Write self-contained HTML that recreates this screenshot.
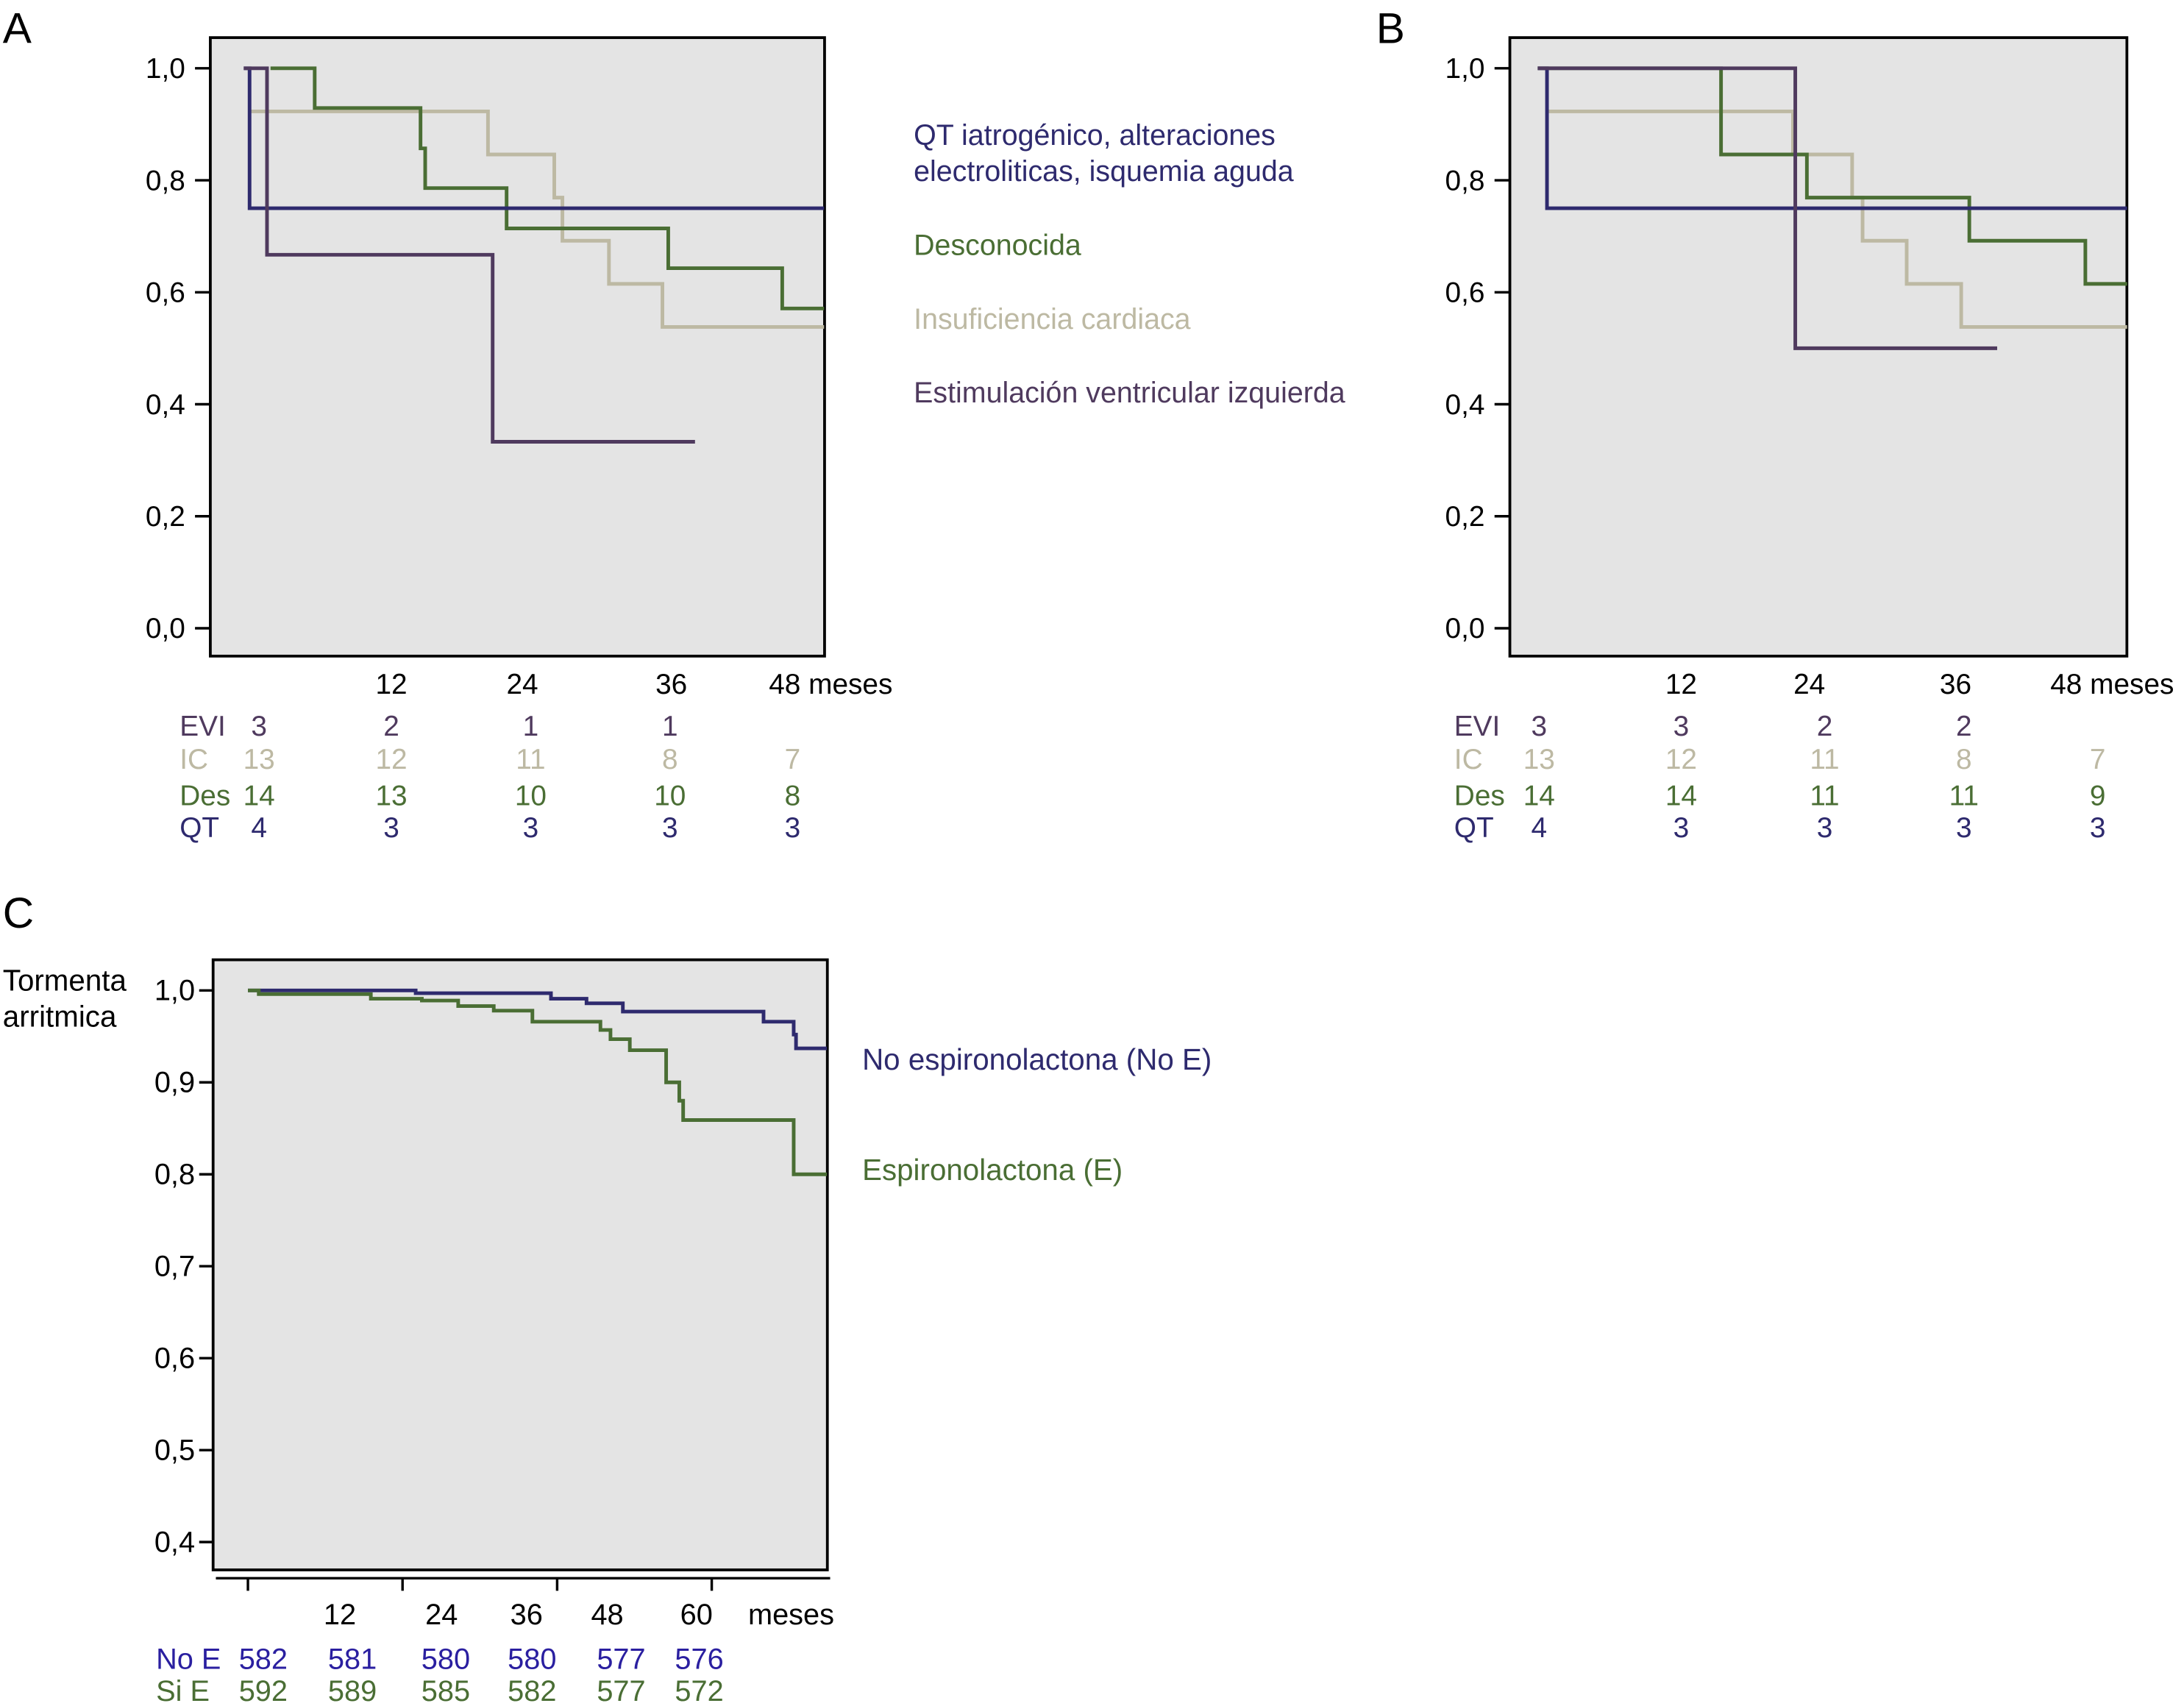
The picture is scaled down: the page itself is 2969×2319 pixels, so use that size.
<!DOCTYPE html>
<html><head><meta charset="utf-8"><style>
html,body{margin:0;padding:0;background:#fff;}
svg{display:block;}
text{font-family:"Liberation Sans",Arial,sans-serif;}
.n{font-family:"Liberation Sans Narrow","Liberation Sans",sans-serif;}
</style></head><body>
<svg id="fig" width="2969" height="2319" viewBox="0 0 1568 1224.7" xmlns="http://www.w3.org/2000/svg">
<rect width="1568" height="1225" fill="#fff"/>
<text x="2" y="31" font-size="31">A</text>
<text x="988" y="31" font-size="31">B</text>
<text x="2" y="666" font-size="31">C</text>
<rect x="151" y="27" width="441" height="444" fill="#e4e4e4" stroke="#000" stroke-width="2"/>
<rect x="1084" y="27" width="443" height="444" fill="#e4e4e4" stroke="#000" stroke-width="2"/>
<rect x="153" y="689" width="441" height="438" fill="#e4e4e4" stroke="#000" stroke-width="2"/>
<g id="layer"></g>
<g font-size="20.8">
<text x="656" y="104" fill="#2e2a6e">QT iatrogénico, alteraciones</text>
<text x="656" y="130" fill="#2e2a6e">electroliticas, isquemia aguda</text>
<text x="656" y="183" fill="#4a6e34">Desconocida</text>
<text x="656" y="236" fill="#bdb9a3">Insuficiencia cardiaca</text>
<text x="656" y="289" fill="#4f3a5e">Estimulación ventricular izquierda</text>
</g>
<g font-size="21.3" class="n">
<text x="2" y="711">Tormenta</text>
<text x="2" y="737">arritmica</text>
<text x="619" y="768" fill="#2e2a6e">No espironolactona (No E)</text>
<text x="619" y="847" fill="#4a6e34">Espironolactona (E)</text>
</g>
</svg>
<script>
// Panel A data
const aQtT=[0,0.5,49.9], aQtV=[1,0.75];
const aEviT=[0,2,21.4,38.8], aEviV=[1,0.667,0.333];
const aIcT=[0.5,21,26.7,27.4,31.4,36,49.9], aIcV=[0.923,0.846,0.769,0.692,0.615,0.538];
const aDesT=[2.3,6.1,15.2,15.6,22.6,36.5,46.3,49.9], aDesV=[1,0.929,0.857,0.786,0.714,0.643,0.571];
// Panel B data
const bQtT=[0,0.8,50.8], bQtV=[1,0.75];
const bEviT=[0,22.2,39.6], bEviV=[1,0.5];
const bIcT=[0.8,22,27.1,28,31.8,36.5,50.8], bIcV=[0.923,0.846,0.769,0.692,0.615,0.538];
const bDesT=[0,15.8,23.2,37.2,47.2,50.8], bDesV=[1,0.846,0.769,0.692,0.615];
// Panel C data
const cNoT=[0,21.7,39.2,43.8,48.5,66.7,70.6,70.9,74.9], cNoV=[1,0.997,0.991,0.986,0.977,0.966,0.952,0.937];
const cSiT=[0,1.4,15.9,22.5,27.2,31.8,36.8,45.6,46.9,49.4,54.1,55.8,56.3,70.6,74.9], cSiV=[1,0.996,0.991,0.989,0.983,0.978,0.966,0.957,0.947,0.935,0.9,0.88,0.859,0.8];
// ticks & risk tables
const abYTicks=[0,0.2,0.4,0.6,0.8,1.0], abYLabels=["0,0","0,2","0,4","0,6","0,8","1,0"];
const cYTicks=[0.4,0.5,0.6,0.7,0.8,0.9,1.0], cYLabels=["0,4","0,5","0,6","0,7","0,8","0,9","1,0"];
const riskRowsAB=["EVI","IC","Des","QT"];
const aRisk=[["3","2","1","1",""],["13","12","11","8","7"],["14","13","10","10","8"],["4","3","3","3","3"]];
const bRisk=[["3","3","2","2",""],["13","12","11","8","7"],["14","14","11","11","9"],["4","3","3","3","3"]];
const cRiskRows=["No E","Si E"];
const cRisk=[["582","581","580","580","577","576"],["592","589","585","582","577","572"]];

const NS="http://www.w3.org/2000/svg", L=document.getElementById('layer');
function mk(tag,at,name,txt){const e=document.createElementNS(NS,tag);for(const k in at)e.setAttribute(k,at[k]);


if(txt!==undefined)e.textContent=txt;L.appendChild(e);return e;}
const xA=t=>175+t*8.35, yAB=v=>451-v*402, xB=t=>1104+t*8.33, xC=t=>178+t*5.55, yC=v=>711+(1-v)*660;
function step(T,V,xf,yf,color,name,w){let d='M'+xf(T[0])+' '+yf(V[0]);
for(let i=1;i<V.length;i++){d+=' H'+xf(T[i])+' V'+yf(V[i]);}
d+=' H'+xf(T[T.length-1]);
mk('path',{d:d,fill:'none',stroke:color,'stroke-width':w||2.6},name);}
const cQT='#2e2a6e',cEVI='#4f3a5e',cIC='#bdb9a3',cDES='#4a6e34';
step(aIcT,aIcV,xA,yAB,cIC,'a-curve-ic');step(aDesT,aDesV,xA,yAB,cDES,'a-curve-des');
step(aQtT,aQtV,xA,yAB,cQT,'a-curve-qt');step(aEviT,aEviV,xA,yAB,cEVI,'a-curve-evi');
step(bIcT,bIcV,xB,yAB,cIC,'b-curve-ic');step(bDesT,bDesV,xB,yAB,cDES,'b-curve-des');
step(bQtT,bQtV,xB,yAB,cQT,'b-curve-qt');step(bEviT,bEviV,xB,yAB,cEVI,'b-curve-evi');
step(cNoT,cNoV,xC,yC,cQT,'c-curve-no-e');step(cSiT,cSiV,xC,yC,cDES,'c-curve-e');
// y axes
abYTicks.forEach((v,i)=>{[[151,133],[1084,1066]].forEach(([bx,lx],j)=>{
mk('line',{x1:bx-11,x2:bx,y1:yAB(v),y2:yAB(v),stroke:'#000','stroke-width':1.8},'y-tick');
mk('text',{x:lx,y:yAB(v)+7,'font-size':20.5,'text-anchor':'end'},'y-tick-label',abYLabels[i]);});});
cYTicks.forEach((v,i)=>{mk('line',{x1:143,x2:153,y1:yC(v),y2:yC(v),stroke:'#000','stroke-width':1.8},'c-y-tick');
mk('text',{x:140,y:yC(v)+7,'font-size':21,'text-anchor':'end',class:'n'},'c-y-tick-label',cYLabels[i]);});
// x labels A/B
const aXL=[[281,"12"],[375,"24"],[482,"36"],[552,"48 meses"]], bXL=[[1207,"12"],[1299,"24"],[1404,"36"],[1472,"48 meses"]];
aXL.forEach(([x,s],i)=>mk('text',{x:x,y:498,'font-size':20.5,'text-anchor':i<3?'middle':'start'},'a-x-label',s));
bXL.forEach(([x,s],i)=>mk('text',{x:x,y:498,'font-size':20.5,'text-anchor':i<3?'middle':'start'},'b-x-label',s));
const rCols=[cEVI,cIC,cDES,cQT], rY=[528,552,578,601];
const aCols=[186,281,381,481,569], bCols=[1105,1207,1310,1410,1506];
riskRowsAB.forEach((r,i)=>{
mk('text',{x:129,y:rY[i],'font-size':20.5,fill:rCols[i]},'a-risk-row-label',r);
mk('text',{x:1044,y:rY[i],'font-size':20.5,fill:rCols[i]},'b-risk-row-label',r);
aRisk[i].forEach((s,j)=>mk('text',{x:aCols[j],y:rY[i],'font-size':20.5,fill:rCols[i],'text-anchor':'middle'},'a-risk-value',s));
bRisk[i].forEach((s,j)=>mk('text',{x:bCols[j],y:rY[i],'font-size':20.5,fill:rCols[i],'text-anchor':'middle'},'b-risk-value',s));});
// C x axis
mk('line',{x1:155,x2:596,y1:1133,y2:1133,stroke:'#000','stroke-width':1.8},'c-x-axis');
[0,20,40,60].forEach(t=>mk('line',{x1:xC(t),x2:xC(t),y1:1133,y2:1142,stroke:'#000','stroke-width':1.8},'c-x-tick'));
const cXL=[[244,"12"],[317,"24"],[378,"36"],[436,"48"],[500,"60"],[568,"meses"]];
cXL.forEach(([x,s])=>mk('text',{x:x,y:1166,'font-size':21,'text-anchor':'middle',class:'n'},'c-x-label',s));
const cCols=[189,253,320,382,446,502], cRC=['#2a1fa0','#4a6e34'], cRY=[1198,1221];
cRiskRows.forEach((r,i)=>{mk('text',{x:112,y:cRY[i],'font-size':21,fill:cRC[i],class:'n'},'c-risk-row-label',r);
cRisk[i].forEach((s,j)=>mk('text',{x:cCols[j],y:cRY[i],'font-size':21,fill:cRC[i],'text-anchor':'middle',class:'n'},'c-risk-value',s));});
</script>
</body></html>
